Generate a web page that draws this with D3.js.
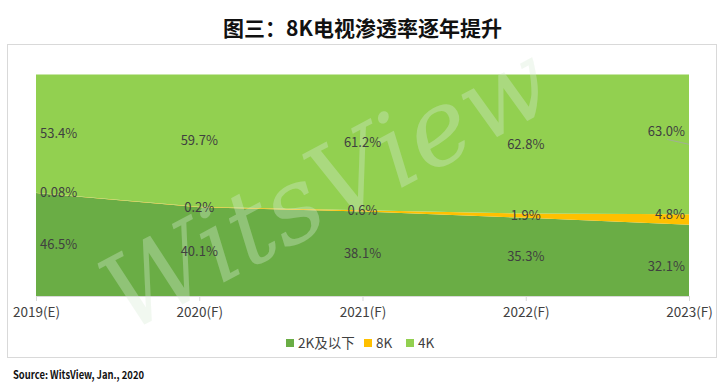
<!DOCTYPE html>
<html>
<head>
<meta charset="utf-8">
<script src="https://cdn.jsdelivr.net/npm/d3@7"></script>
<style>
  html, body { margin: 0; padding: 0; background: #fff; }
  svg text { font-family: "Noto Sans CJK SC", "Noto Sans", sans-serif; }
</style>
</head>
<body>
<svg id="chart" width="725" height="385"></svg>
<script>
const categories = ["2019(E)", "2020(F)", "2021(F)", "2022(F)", "2023(F)"];
const seriesNames = ["2K及以下", "8K", "4K"];
const values2K = [46.5, 40.1, 38.1, 35.3, 32.1];
const values8K = [0.08, 0.2, 0.6, 1.9, 4.8];
const values4K = [53.4, 59.7, 61.2, 62.8, 63.0];
const labels2K = ["46.5%", "40.1%", "38.1%", "35.3%", "32.1%"];
const labels8K = ["0.08%", "0.2%", "0.6%", "1.9%", "4.8%"];
const labels4K = ["53.4%", "59.7%", "61.2%", "62.8%", "63.0%"];
const colors = {"2K及以下": "#6aad45", "8K": "#ffc000", "4K": "#92d050"};

const svg = d3.select("#chart");
const plot = {left: 36, right: 689, top: 74.5, bottom: 296};

// outer box
svg.append("rect").attr("x", 7.5).attr("y", 44.5).attr("width", 709).attr("height", 313)
  .attr("fill", "#fff").attr("stroke", "#d9d9d9").attr("stroke-width", 1);

// title
svg.append("text").attr("x", 362.5).attr("y", 36).attr("text-anchor", "middle")
  .attr("font-size", 21).attr("font-weight", "bold").attr("fill", "#111")
  .text("图三：8K电视渗透率逐年提升");

const table = categories.map((c, i) => ({cat: c, "2K及以下": values2K[i], "8K": values8K[i], "4K": values4K[i]}));
const stack = d3.stack().keys(seriesNames).offset(d3.stackOffsetExpand);
const layers = stack(table);

const x = d3.scalePoint().domain(categories).range([plot.left, plot.right]);
const y = d3.scaleLinear().domain([0, 1]).range([plot.bottom, plot.top]);

const area = d3.area().x(d => x(d.data.cat)).y0(d => y(d[0])).y1(d => y(d[1]));
svg.append("g").selectAll("path").data(layers).join("path")
  .attr("d", area).attr("fill", d => colors[d.key]);

// axis
const axis = d3.axisBottom(x).tickSize(5).tickPadding(6);
const gx = svg.append("g").attr("transform", `translate(0,${plot.bottom})`).call(axis);
gx.select(".domain").attr("stroke", "#d9d9d9");
gx.selectAll(".tick line").attr("stroke", "#d9d9d9");
gx.selectAll(".tick text").attr("font-size", 13.5).attr("fill", "#404040")
  .attr("font-family", "\"Noto Sans CJK SC\", sans-serif");

// watermark
svg.append("text").attr("transform", "translate(330,195) rotate(-28)")
  .attr("text-anchor", "middle").attr("dominant-baseline", "middle")
  .attr("font-style", "italic")
  .attr("font-size", 104).attr("fill", "#d8ecd6").attr("opacity", 0.35)
  .style("font-family", "\"DejaVu Serif\", serif")
  .text("WitsView");

// data labels
const labelSets = [labels2K, labels8K, labels4K];
const n = categories.length;
layers.forEach((layer, li) => {
  layer.forEach((d, i) => {
    let anchor = "middle", lx = x(d.data.cat);
    if (i === 0) { anchor = "start"; lx += 4; }
    if (i === n - 1) { anchor = "end"; lx -= 4; }
    let ly = y((d[0] + d[1]) / 2);
    if (i === n - 1 && seriesNames[li] === "4K") {
      const oy = ly;
      ly -= 13;
      svg.append("line").attr("x1", lx - 18).attr("y1", ly + 8).attr("x2", plot.right).attr("y2", oy)
        .attr("stroke", "#a6a6a6").attr("stroke-width", 0.8);
    }
    if (i === n - 1 && seriesNames[li] === "2K及以下") ly += 6;
    if (i === n - 1 && seriesNames[li] === "8K") ly -= 5;
    svg.append("text").attr("x", lx).attr("y", ly).attr("dy", "0.35em")
      .attr("text-anchor", anchor).attr("font-size", 13).attr("fill", "#404040")
      .text(labelSets[li][i]);
  });
});

// legend
const legendItems = [{k: "2K及以下", x: 286}, {k: "8K", x: 364}, {k: "4K", x: 406}];
const lg = svg.append("g");
legendItems.forEach(it => {
  lg.append("rect").attr("x", it.x).attr("y", 339).attr("width", 8).attr("height", 8).attr("fill", colors[it.k]);
  lg.append("text").attr("x", it.x + 12).attr("y", 343).attr("dy", "0.36em")
    .attr("font-size", 13.5).attr("fill", "#404040").text(it.k);
});

// source
svg.append("text").attr("x", 13).attr("y", 379).attr("font-size", 11).attr("font-weight", "bold")
  .attr("fill", "#111").attr("textLength", 131).attr("lengthAdjust", "spacingAndGlyphs")
  .text("Source: WitsView, Jan., 2020");
</script>
</body>
</html>
